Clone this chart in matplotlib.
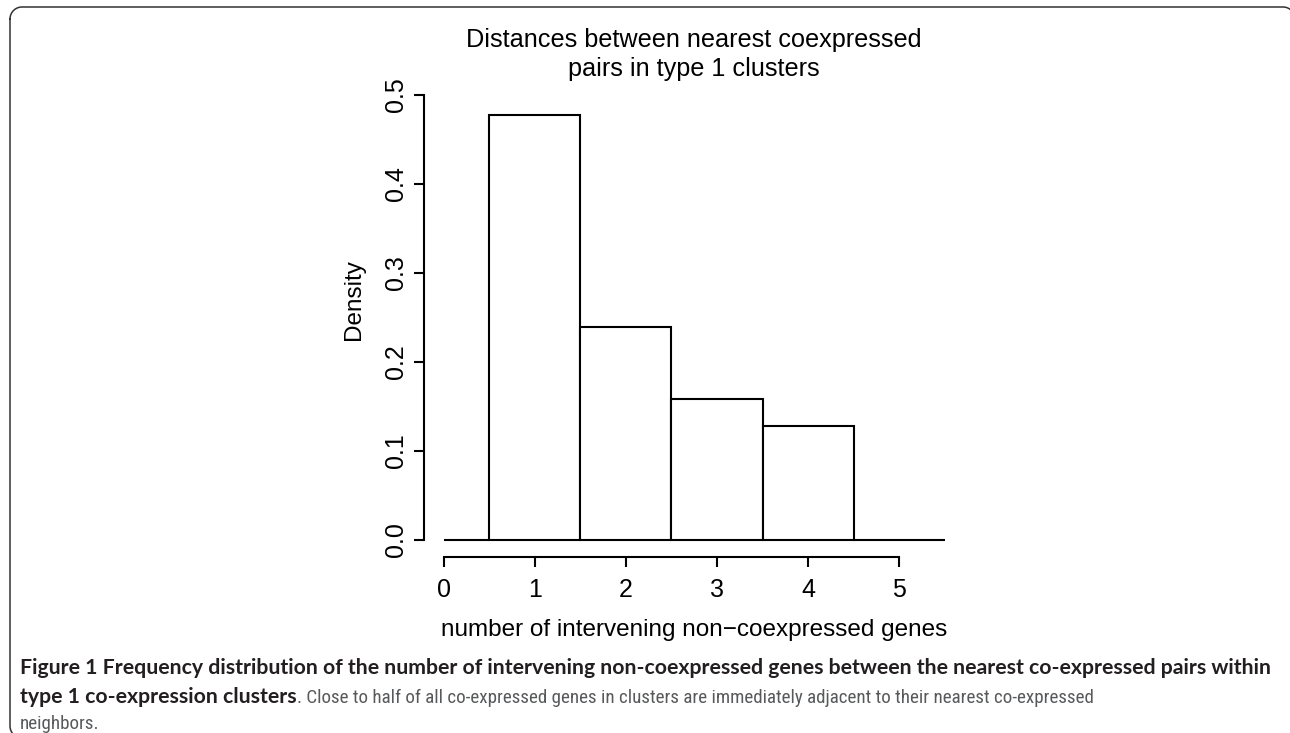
import numpy as np
import matplotlib
matplotlib.use('Agg')
import matplotlib.pyplot as plt
from matplotlib import font_manager

# histogram data (density per bin)
bin_edges = [0, 0.5, 1.5, 2.5, 3.5, 4.5, 5.5]
density = [0, 0.477, 0.239, 0.158, 0.128, 0]
x_ticks = [0, 1, 2, 3, 4, 5]
y_ticks = [0.0, 0.1, 0.2, 0.3, 0.4, 0.5]
y_tick_labels = ['0.0', '0.1', '0.2', '0.3', '0.4', '0.5']

title_lines = ['Distances between nearest coexpressed', 'pairs in type 1 clusters']
x_label = 'number of intervening non\u2212coexpressed genes'
y_label = 'Density'

cap_bold_1 = ('Figure 1 Frequency distribution of the number of intervening '
              'non-coexpressed genes between the nearest co-expressed pairs within')
cap_bold_2 = 'type 1 co-expression clusters'
cap_reg_2 = ('. Close to half of all co-expressed genes in clusters are '
             'immediately adjacent to their nearest co-expressed')
cap_reg_3 = 'neighbors.'

W, H = 1290, 733
plt.rcParams['font.family'] = ['Liberation Sans', 'DejaVu Sans']
fig = plt.figure(figsize=(W / 100, H / 100), dpi=100)


def pick_font(names, default):
    for n in names:
        try:
            font_manager.findfont(n, fallback_to_default=False)
            return n
        except ValueError:
            pass
    return default


narrow = pick_font(['Liberation Sans Narrow', 'DejaVu Sans Condensed',
                    'Roboto Condensed', 'Open Sans Condensed'], 'Lato')

# overlay in pixel coordinates for frame and free text
ov = fig.add_axes([0, 0, 1, 1])
ov.set_xlim(0, W)
ov.set_ylim(H, 0)
ov.axis('off')

# rounded frame, right and bottom sides run off the picture
r = 12
fx0, fy0, fx1, fy1 = 10, 7, 1295, 738
t = np.linspace(0, np.pi / 2, 20)
px = np.concatenate([fx0 + r - r * np.cos(t), fx1 - r + r * np.sin(t),
                     fx1 - r + r * np.cos(t), fx0 + r - r * np.sin(t), [fx0]])
py = np.concatenate([fy0 + r - r * np.sin(t), fy0 + r - r * np.cos(t),
                     fy1 - r + r * np.sin(t), fy1 - r + r * np.cos(t), [fy0 + r]])
ov.plot(px, py, color='#333333', linewidth=1.1, clip_on=False)

# plot region (R style: 4% expansion of data range)
left, right, top, bottom = 423.7, 964.8, 76.7, 557.3
ax = fig.add_axes([left / W, 1 - bottom / H, (right - left) / W, (bottom - top) / H])
ax.patch.set_alpha(0)
widths = np.diff(bin_edges)
ax.bar(bin_edges[:-1], density, width=widths, align='edge',
       facecolor='white', edgecolor='black', linewidth=1.5)
ax.set_xlim(-0.22, 5.72)
ax.set_ylim(-0.02, 0.52)
for s in ['top', 'right']:
    ax.spines[s].set_visible(False)
ax.spines['left'].set_bounds(0, 0.5)
ax.spines['bottom'].set_bounds(0, 5)
for s in ['left', 'bottom']:
    ax.spines[s].set_linewidth(1.5)
ax.set_xticks(x_ticks)
ax.set_yticks(y_ticks, labels=y_tick_labels)
ax.tick_params(direction='out', length=7.2, width=1.5, labelsize=18)
ax.tick_params(axis='x', pad=8)
ax.tick_params(axis='y', pad=4)
plt.setp(ax.get_yticklabels(), rotation=90, va='center', ha='right')

cx = (left + right) / 2
ov.text(cx, 47, title_lines[0], ha='center', va='baseline', fontsize=18.2)
ov.text(cx, 76, title_lines[1], ha='center', va='baseline', fontsize=18.2)
ov.text(cx, 636, x_label, ha='center', va='baseline', fontsize=17.5)
ov.text(354, 300, y_label, ha='center', va='center', rotation=90, fontsize=17.5)

# caption
bold_col = '#231f20'
reg_col = '#58595b'
renderer = fig.canvas.get_renderer()


def fit_size(txt, x_end, size):
    # grow or shrink a caption text so it ends where the reference line ends
    for _ in range(3):
        bb = txt.get_window_extent(renderer)
        size = size * (x_end - bb.x0) / bb.width
        txt.set_fontsize(size)
    return size


bold_font = ['Lato', 'Open Sans', 'DejaVu Sans']
reg_font = [narrow, 'Lato', 'DejaVu Sans']
t1 = ov.text(20, 674, cap_bold_1, fontsize=14, fontweight='bold', color=bold_col,
             family=bold_font, va='baseline')
bs = fit_size(t1, 1277, 14)
t2 = ov.text(20, 703, cap_bold_2, fontsize=bs, fontweight='bold', color=bold_col,
             family=bold_font, va='baseline')
x_end = t2.get_window_extent(renderer).x1
t3 = ov.text(x_end, 703, cap_reg_2, fontsize=14, color=reg_col, family=reg_font,
             va='baseline')
rs = fit_size(t3, 1093, 14)
ov.text(20, 729, cap_reg_3, fontsize=rs, color=reg_col, family=reg_font, va='baseline')

fig.savefig('out.png', dpi=100)
